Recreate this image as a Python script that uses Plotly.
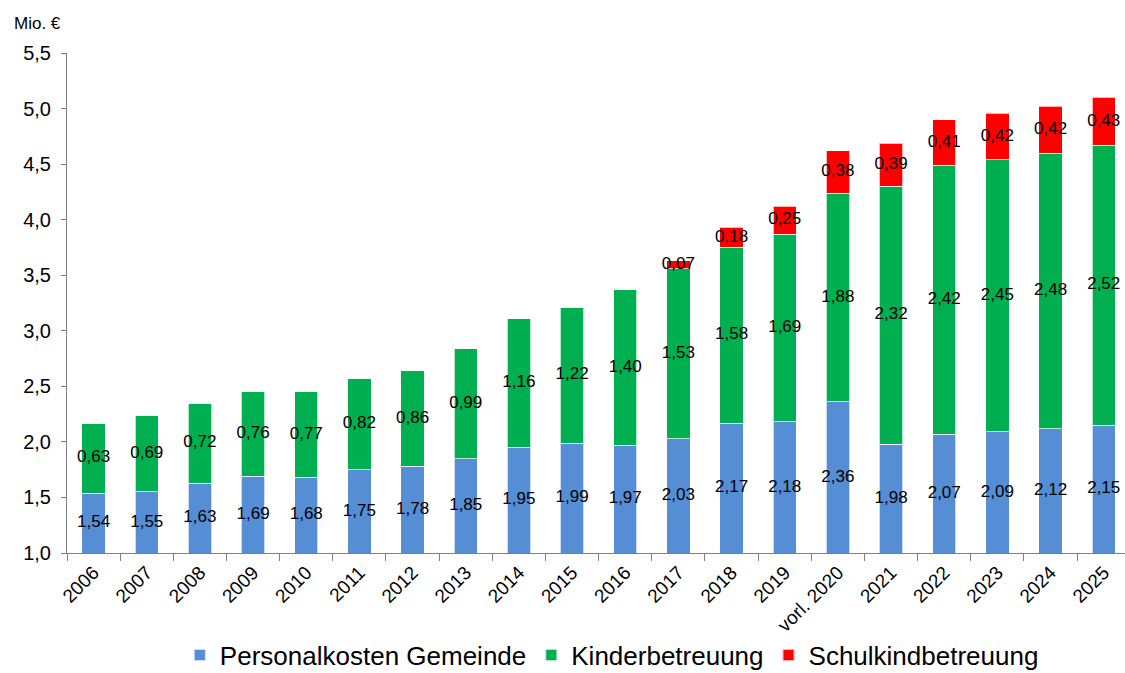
import plotly.graph_objects as go

years = ["2006", "2007", "2008", "2009", "2010", "2011", "2012", "2013", "2014", "2015",
         "2016", "2017", "2018", "2019", "vorl. 2020", "2021", "2022", "2023", "2024", "2025"]
personal = [1.54, 1.55, 1.63, 1.69, 1.68, 1.75, 1.78, 1.85, 1.95, 1.99,
            1.97, 2.03, 2.17, 2.18, 2.36, 1.98, 2.07, 2.09, 2.12, 2.15]
kinder = [0.63, 0.69, 0.72, 0.76, 0.77, 0.82, 0.86, 0.99, 1.16, 1.22,
          1.40, 1.53, 1.58, 1.69, 1.88, 2.32, 2.42, 2.45, 2.48, 2.52]
schulkind = [None, None, None, None, None, None, None, None, None, None,
             None, 0.07, 0.18, 0.25, 0.38, 0.39, 0.41, 0.42, 0.42, 0.43]

Y_MIN, Y_MAX = 1.0, 5.5
FONT = "Liberation Sans, Arial, sans-serif"

def fmt(v):
    return f"{v:.2f}".replace(".", ",")

fig = go.Figure()
bar_line = dict(color="rgba(255,255,255,0.7)", width=1)
fig.add_bar(x=years, y=personal, name="Personalkosten Gemeinde",
            marker=dict(color="#558ED5", line=bar_line))
fig.add_bar(x=years, y=kinder, name="Kinderbetreuung",
            marker=dict(color="#00B050", line=bar_line))
fig.add_bar(x=years, y=[v if v is not None else 0 for v in schulkind], name="Schulkindbetreuung",
            marker=dict(color="#FF0000", line=bar_line))

# value labels centred in each visible segment
lx, ly, lt = [], [], []
for i, yr in enumerate(years):
    p, k, s = personal[i], kinder[i], schulkind[i]
    lx.append(yr); ly.append((max(Y_MIN, 0) + p) / 2); lt.append(fmt(p))
    lx.append(yr); ly.append(p + k / 2); lt.append(fmt(k))
    if s is not None:
        lx.append(yr); ly.append(p + k + s / 2); lt.append(fmt(s))
fig.add_scatter(x=lx, y=ly, text=lt, mode="text", showlegend=False, hoverinfo="skip",
                textfont=dict(family=FONT, size=17, color="#000000"))

fig.add_annotation(text="Mio. €", xref="paper", yref="paper", x=-0.052, y=1.058,
                   xanchor="left", yanchor="middle", showarrow=False,
                   font=dict(family=FONT, size=17, color="#000000"))

fig.update_layout(
    width=1125, height=673,
    margin=dict(l=67, r=0, t=53, b=120, autoexpand=False),
    barmode="stack", bargap=0.56,
    plot_bgcolor="white", paper_bgcolor="white",
    separators=",.",
    font=dict(family=FONT, color="#000000"),
    legend=dict(orientation="h", x=0.515, xanchor="center", y=-0.204, yanchor="middle",
                font=dict(family=FONT, size=26, color="#000000"),
                itemsizing="constant", traceorder="normal", itemwidth=30),
)
fig.update_xaxes(type="category", range=[-0.5, 19.4], tickangle=-45, tickson="boundaries",
                 ticks="outside", ticklen=7, tickcolor="#7f7f7f", automargin=False,
                 showline=True, linecolor="#7f7f7f", linewidth=1,
                 tickfont=dict(family=FONT, size=19, color="#000000"), showgrid=False)
fig.update_yaxes(range=[Y_MIN, Y_MAX], dtick=0.5, tickformat=".1f", automargin=False,
                 ticks="outside", ticklen=5, tickcolor="#7f7f7f", ticklabelstandoff=6,
                 showline=True, linecolor="#7f7f7f", linewidth=1,
                 tickfont=dict(family=FONT, size=20, color="#000000"), showgrid=False,
                 zeroline=False)

fig.write_html("out.html")
